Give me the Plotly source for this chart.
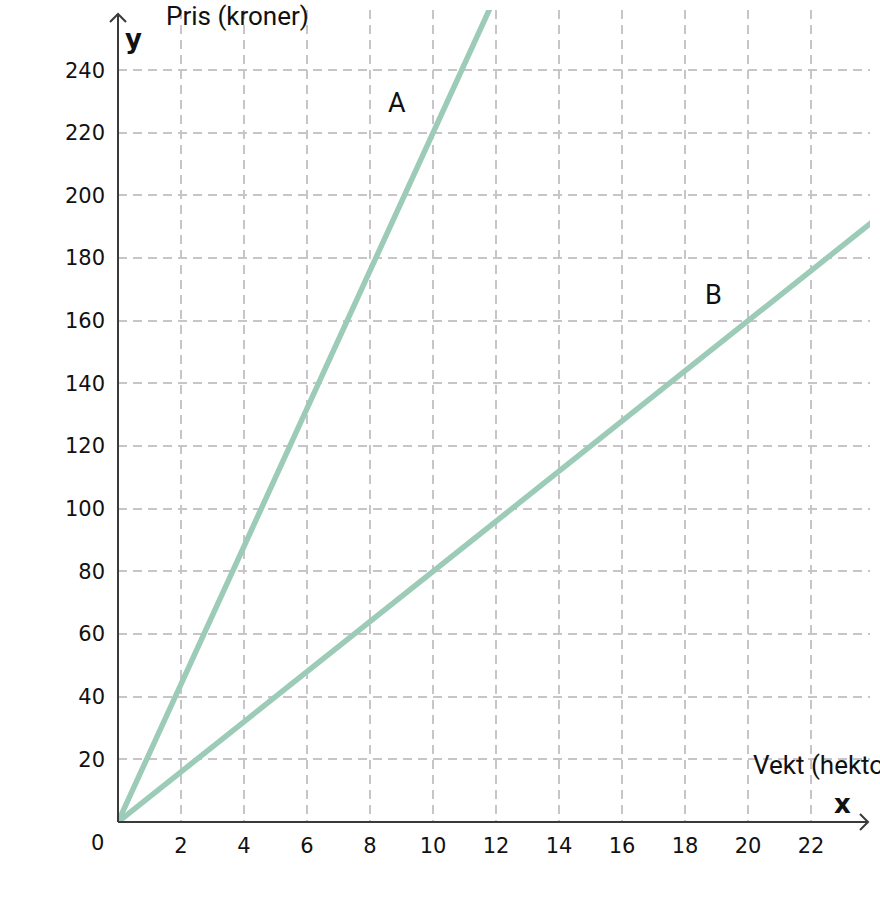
import plotly.graph_objects as go

# Data
weight_A = [0, 12]
price_A = [0, 264]
weight_B = [0, 24]
price_B = [0, 192]

x_ticks = [2, 4, 6, 8, 10, 12, 14, 16, 18, 20, 22]
y_ticks = [20, 40, 60, 80, 100, 120, 140, 160, 180, 200, 220, 240]

line_color = "#9ccbb8"
grid_color = "#c9c4ca"
axis_color = "#3a3a3a"
tick_font = dict(family="DejaVu Sans", size=21, color="#111111")
label_font = dict(family="Roboto", size=26, color="#111111")

fig = go.Figure()
fig.add_trace(go.Scatter(x=weight_A, y=price_A, mode="lines",
                         line=dict(color=line_color, width=5.5), hoverinfo="skip"))
fig.add_trace(go.Scatter(x=weight_B, y=price_B, mode="lines",
                         line=dict(color=line_color, width=5.5), hoverinfo="skip"))

fig.update_layout(
    width=880, height=905,
    margin=dict(l=118, r=10, t=10, b=83),
    paper_bgcolor="white", plot_bgcolor="white",
    showlegend=False,
    xaxis=dict(range=[0, 23.87], tickvals=x_ticks, ticktext=[str(v) for v in x_ticks],
               showgrid=True, gridcolor=grid_color, gridwidth=2, griddash="9px,6px",
               zeroline=False, showline=False, ticks="", tickfont=tick_font,
               ticklabelstandoff=9, fixedrange=True),
    yaxis=dict(range=[0, 259.2], tickvals=y_ticks, ticktext=[str(v) for v in y_ticks],
               showgrid=True, gridcolor=grid_color, gridwidth=2, griddash="9px,6px",
               zeroline=False, showline=False, ticks="", tickfont=tick_font,
               ticklabelstandoff=12, fixedrange=True),
)

# Axes with open arrowheads
fig.add_shape(type="line", xref="paper", yref="paper", x0=0, y0=0, x1=(868 - 118) / 752, y1=0,
              line=dict(color=axis_color, width=2), layer="above")
fig.add_shape(type="line", xref="paper", yref="paper", x0=0, y0=0, x1=0, y1=(822 - 14) / 812,
              line=dict(color=axis_color, width=2), layer="above")
fig.add_shape(type="path", xref="paper", yref="paper", xsizemode="pixel", ysizemode="pixel",
              xanchor=(868 - 118) / 752, yanchor=0,
              path="M -8 8 L 0 0 L -8 -8", line=dict(color=axis_color, width=2), layer="above")
fig.add_shape(type="path", xref="paper", yref="paper", xsizemode="pixel", ysizemode="pixel",
              xanchor=0, yanchor=(822 - 14) / 812,
              path="M -8 -8 L 0 0 L 8 -8", line=dict(color=axis_color, width=2), layer="above")

axis_letter_font = dict(family="DejaVu Sans", size=26, color="#111111", weight="bold")
ann = [
    dict(text="0", x=-21 / 752, y=-21 / 812, font=tick_font),
    dict(text="Pris (kroner)", x=(237 - 118) / 752, y=(822 - 16) / 812, font=label_font),
    dict(text="y", x=(133 - 118) / 752, y=(822 - 39) / 812, font=axis_letter_font),
    dict(text="Vekt (hektogram)", x=(751 - 118) / 752, y=(822 - 765) / 812, font=label_font,
         xanchor="left"),
    dict(text="x", x=(842 - 118) / 752, y=(822 - 804) / 812, font=axis_letter_font),
    dict(text="A", x=(397 - 118) / 752, y=(822 - 103) / 812,
         font=dict(family="Roboto", size=27, color="#111111")),
    dict(text="B", x=(713 - 118) / 752, y=(822 - 295) / 812,
         font=dict(family="Roboto", size=27, color="#111111")),
]
for a in ann:
    a.setdefault("xanchor", "center")
    fig.add_annotation(xref="paper", yref="paper", showarrow=False, yanchor="middle", **a)

fig.write_html("out.html")
